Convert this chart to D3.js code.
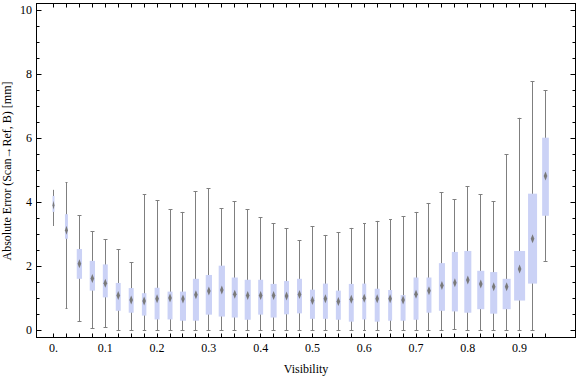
<!DOCTYPE html>
<html>
<head>
<meta charset="utf-8">
<script src="https://cdn.jsdelivr.net/npm/d3@7"></script>
<style>
  body { margin: 0; background: #fff; }
  svg { display: block; font-family: "Liberation Serif", "DejaVu Serif", serif; }
</style>
</head>
<body>
<div id="chart"></div>
<script>
// visibility bins, one box each
const visibility = [0, 0.025, 0.05, 0.075, 0.1, 0.125, 0.15, 0.175, 0.2, 0.225,
  0.25, 0.275, 0.3, 0.325, 0.35, 0.375, 0.4, 0.425, 0.45, 0.475,
  0.5, 0.525, 0.55, 0.575, 0.6, 0.625, 0.65, 0.675, 0.7, 0.725,
  0.75, 0.775, 0.8, 0.825, 0.85, 0.875, 0.9, 0.925, 0.95];

const whiskerLow = [3.28, 0.68, 0.27, 0.05, 0.08, 0, 0, 0, 0, 0,
  0, 0, 0, 0, 0, 0, 0, 0, 0, 0,
  0, 0, 0, 0, 0, 0, 0, 0, 0, 0,
  0, 0.02, 0, 0, 0, 0, 0, 0, 2.16];
const q1 = [3.69, 2.85, 1.60, 1.23, 1.02, 0.60, 0.54, 0.45, 0.33, 0.33,
  0.29, 0.29, 0.48, 0.42, 0.39, 0.32, 0.48, 0.39, 0.49, 0.52,
  0.35, 0.35, 0.32, 0.26, 0.33, 0.26, 0.29, 0.29, 0.32, 0.54,
  0.60, 0.58, 0.54, 0.65, 0.51, 0.65, 0.92, 1.45, 3.57];
const median = [3.90, 3.12, 2.07, 1.61, 1.46, 1.08, 0.94, 0.91, 0.98, 1.00,
  0.97, 1.10, 1.22, 1.25, 1.12, 1.08, 1.08, 1.08, 1.06, 1.11,
  0.92, 0.98, 0.89, 0.96, 0.99, 0.98, 0.98, 0.94, 1.12, 1.23,
  1.39, 1.48, 1.56, 1.44, 1.35, 1.35, 1.91, 2.85, 4.81];
const q3 = [4.19, 3.62, 2.53, 2.16, 2.05, 1.47, 1.31, 1.15, 1.32, 1.20,
  1.20, 1.60, 1.72, 2.01, 1.64, 1.57, 1.57, 1.44, 1.53, 1.60,
  1.26, 1.45, 1.23, 1.44, 1.45, 1.29, 1.25, 1.09, 1.64, 1.64,
  2.09, 2.44, 2.47, 1.85, 1.81, 1.60, 2.47, 4.26, 6.01];
const whiskerHigh = [4.38, 4.61, 3.58, 3.09, 2.83, 2.53, 2.11, 4.25, 4.05, 3.77,
  3.69, 4.33, 4.43, 3.80, 4.02, 3.77, 3.53, 3.34, 3.18, 2.81,
  3.25, 2.97, 3.06, 3.19, 3.34, 3.41, 3.46, 3.55, 3.69, 3.97,
  4.30, 4.09, 4.50, 4.25, 4.02, 5.49, 6.63, 7.78, 7.50];
// relative box width (sample weight) as seen in the picture
const boxWeight = [0.18, 0.27, 0.48, 0.48, 0.45, 0.45, 0.45, 0.41, 0.45, 0.45,
  0.55, 0.55, 0.57, 0.57, 0.55, 0.55, 0.45, 0.55, 0.45, 0.45,
  0.45, 0.45, 0.45, 0.45, 0.36, 0.45, 0.36, 0.45, 0.45, 0.45,
  0.55, 0.55, 0.64, 0.64, 0.64, 0.73, 1.0, 0.82, 0.61];

const xTickValues = [0, 0.1, 0.2, 0.3, 0.4, 0.5, 0.6, 0.7, 0.8, 0.9];
const xTickLabels = ["0.", "0.1", "0.2", "0.3", "0.4", "0.5", "0.6", "0.7", "0.8", "0.9"];
const yTickValues = [0, 2, 4, 6, 8, 10];

const boxes = visibility.map((v, i) => ({
  v, lo: whiskerLow[i], q1: q1[i], med: median[i], q3: q3[i], hi: whiskerHigh[i], w: boxWeight[i]
}));

const width = 576, height = 377;
const frame = { left: 36.5, right: 575.5, top: 3.5, bottom: 337.5 };

const svg = d3.select("#chart").append("svg")
  .attr("width", width)
  .attr("height", height);

const x = d3.scaleLinear().domain([0, 0.95]).range([53, 545]);
const y = d3.scaleLinear().domain([0, 10]).range([330, 10]);
const wScale = d3.scaleLinear().domain([0, 1]).range([0, 11]);

const defs = svg.append("defs");
defs.append("filter").attr("id", "soft")
  .attr("x", "-100%").attr("y", "-50%").attr("width", "300%").attr("height", "200%")
  .append("feGaussianBlur").attr("stdDeviation", 0.5);

const px = v => Math.round(x(v)) + 0.5;
const capHalf = d => Math.min(2, wScale(d.w) / 2 - 0.5);

// whiskers
const g = svg.append("g");
g.selectAll("line.whisker")
  .data(boxes)
  .enter()
  .append("line")
  .attr("class", "whisker")
  .attr("x1", d => px(d.v)).attr("x2", d => px(d.v))
  .attr("y1", d => y(d.hi)).attr("y2", d => y(d.lo))
  .attr("stroke", "#7f7f7f")
  .attr("stroke-width", 1);

// caps
["hi", "lo"].forEach(k => {
  g.selectAll("line.cap-" + k)
    .data(boxes)
    .enter()
    .append("line")
    .attr("class", "cap-" + k)
    .attr("x1", d => px(d.v) - capHalf(d)).attr("x2", d => px(d.v) + capHalf(d))
    .attr("y1", d => Math.round(y(d[k])) + 0.5).attr("y2", d => Math.round(y(d[k])) + 0.5)
    .attr("stroke", "#7f7f7f")
    .attr("stroke-width", 1);
});

// boxes
g.selectAll("rect.box")
  .data(boxes)
  .enter()
  .append("rect")
  .attr("class", "box")
  .attr("x", d => x(d.v) + 0.5 - wScale(d.w) / 2)
  .attr("width", d => wScale(d.w))
  .attr("y", d => y(d.q3))
  .attr("height", d => y(d.q1) - y(d.q3))
  .attr("fill", "#cbd2f6");

// median diamonds
g.selectAll("path.med")
  .data(boxes)
  .enter()
  .append("path")
  .attr("class", "med")
  .attr("d", d => {
    const cx = x(d.v) + 0.5, cy = y(d.med);
    const hw = Math.min(1.8, wScale(d.w) / 2);
    return `M${cx},${cy - 4.5}L${cx + hw},${cy}L${cx},${cy + 4.5}L${cx - hw},${cy}Z`;
  })
  .attr("fill", "#7a7a7a")
  .attr("filter", "url(#soft)");

// frame
svg.append("rect")
  .attr("x", frame.left).attr("y", frame.top)
  .attr("width", frame.right - frame.left)
  .attr("height", frame.bottom - frame.top)
  .attr("fill", "none")
  .attr("stroke", "#000")
  .attr("stroke-width", 1);

// x ticks at every box, on bottom and top
const ticks = svg.append("g").attr("stroke", "#000").attr("stroke-width", 1);
visibility.forEach(v => {
  ticks.append("line").attr("x1", px(v)).attr("x2", px(v))
    .attr("y1", frame.bottom).attr("y2", frame.bottom - 4);
  ticks.append("line").attr("x1", px(v)).attr("x2", px(v))
    .attr("y1", frame.top).attr("y2", frame.top + 4);
});

// y ticks, major every 2, minor every 0.5, on left and right
d3.range(0, 10.01, 0.5).forEach(v => {
  const major = v % 2 === 0;
  const len = major ? 5 : 3;
  const yy = Math.round(y(v)) + 0.5;
  ticks.append("line").attr("x1", frame.left).attr("x2", frame.left + len)
    .attr("y1", yy).attr("y2", yy);
  ticks.append("line").attr("x1", frame.right).attr("x2", frame.right - len)
    .attr("y1", yy).attr("y2", yy);
});

// tick labels
svg.append("g").selectAll("text")
  .data(xTickValues)
  .enter()
  .append("text")
  .attr("x", d => x(d) + 0.5)
  .attr("y", 352)
  .attr("text-anchor", "middle")
  .attr("font-size", "12px")
  .attr("fill", "#000")
  .text((d, i) => xTickLabels[i]);

svg.append("g").selectAll("text")
  .data(yTickValues)
  .enter()
  .append("text")
  .attr("x", 32)
  .attr("y", d => y(d) + 4)
  .attr("text-anchor", "end")
  .attr("font-size", "12px")
  .attr("fill", "#000")
  .text(d => d);

// axis labels
svg.append("text")
  .attr("x", 306)
  .attr("y", 373)
  .attr("text-anchor", "middle")
  .attr("font-size", "12px")
  .attr("fill", "#000")
  .text("Visibility");

svg.append("text")
  .attr("transform", "translate(11, 171) rotate(-90)")
  .attr("text-anchor", "middle")
  .attr("font-size", "12px")
  .attr("fill", "#000")
  .text("Absolute Error (Scan\u2192Ref, B) [mm]");
</script>
</body>
</html>
